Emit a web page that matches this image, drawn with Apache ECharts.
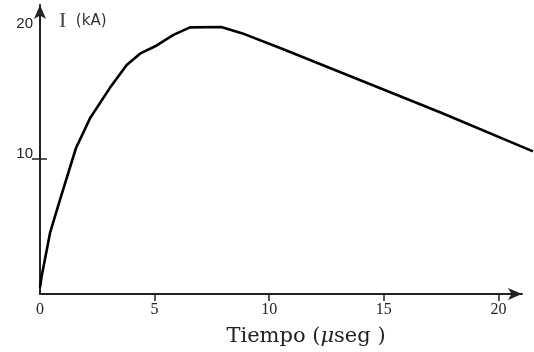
<!DOCTYPE html>
<html>
<head>
<meta charset="utf-8">
<script src="https://cdn.jsdelivr.net/npm/echarts@6/dist/echarts.min.js"></script>
<style>html,body{margin:0;padding:0;background:#fff}#c{width:534px;height:352px}</style>
</head>
<body>
<div id="c"></div>
<script>
// Data
var timeUs = [0, 0.07, 0.44, 0.87, 1.57, 2.18, 3.05, 3.78, 4.36, 5.09, 5.82, 6.54, 7.9, 8.8, 10.5, 17.47, 21.5];
var currentKA = [0.7, 1.5, 4.7, 7.1, 10.9, 13.07, 15.3, 16.97, 17.8, 18.4, 19.17, 19.72, 19.75, 19.3, 18.2, 13.5, 10.65];
var xTickLabels = [0, 5, 10, 15, 20];
var xTickMarks = [5, 10, 15, 20];
var yTickLabels = [10, 20];
var yTickMarks = [10];

var points = timeUs.map(function (t, i) { return [t, currentKA[i]]; });

var chart = echarts.init(document.getElementById('c'), null, {renderer: 'canvas'});
chart.setOption({
  animation: false,
  backgroundColor: '#fff',
  title: {
    left: 54, top: 5,
    text: '{i|I}{u|  (kA)}',
    textStyle: {
      fontWeight: 'normal',
      rich: {
        i: {fontFamily: 'Liberation Serif', fontSize: 22, fontWeight: 'normal', color: '#444'},
        u: {fontFamily: 'DejaVu Sans', fontSize: 15, fontWeight: 'normal', color: '#333'}
      }
    }
  },
  grid: [
    {left: 40, right: 12, top: 5, bottom: 55},
    {left: 40, right: 1, top: 5, bottom: 55}
  ],
  xAxis: [{
    gridIndex: 0, type: 'value', min: 0, max: 21.03,
    axisLine: {show: true, lineStyle: {color: '#222', width: 2}, symbol: ['none', 'arrow'], symbolSize: [9, 14]},
    axisTick: {show: true, inside: false, length: 7, lineStyle: {color: '#222', width: 1.5}, customValues: xTickMarks},
    axisLabel: {customValues: xTickLabels, margin: 8, fontFamily: 'Liberation Serif', fontSize: 16, color: '#222'},
    splitLine: {show: false},
    name: '{a|Tiempo (}{m|μ}{a|seg )}',
    nameLocation: 'middle', nameGap: 32,
    nameTextStyle: {
      padding: [0, 0, 0, 50],
      rich: {
        a: {fontFamily: 'DejaVu Serif', fontSize: 21, color: '#222'},
        m: {fontFamily: 'DejaVu Serif', fontStyle: 'italic', fontSize: 21, color: '#222'}
      }
    }
  }, {
    gridIndex: 1, type: 'value', min: 0, max: 21.5, show: false
  }],
  yAxis: [{
    gridIndex: 0, type: 'value', min: 0, max: 21.36,
    axisLine: {show: true, lineStyle: {color: '#222', width: 2}, symbol: ['none', 'arrow'], symbolSize: [9, 14]},
    axisTick: {show: true, inside: false, length: 8, lineStyle: {color: '#222', width: 1.5}, customValues: yTickMarks},
    axisLabel: {
      customValues: yTickLabels, margin: 7, fontFamily: 'Liberation Sans', fontSize: 15, color: '#222',
      formatter: function (v) { return v === 10 ? '{up|10}' : String(v); },
      rich: {up: {fontFamily: 'Liberation Sans', fontSize: 15, color: '#222', padding: [0, 0, 10, 0]}}
    },
    splitLine: {show: false}
  }, {
    gridIndex: 0, type: 'value', min: 0, max: 21.36, position: 'left', offset: 0,
    axisLine: {show: false},
    axisTick: {show: true, inside: true, length: 7, lineStyle: {color: '#222', width: 1.5}, customValues: yTickMarks},
    axisLabel: {show: false},
    splitLine: {show: false}
  }, {
    gridIndex: 1, type: 'value', min: 0, max: 21.36, show: false
  }],
  series: [{
    type: 'line',
    data: points,
    xAxisIndex: 1,
    yAxisIndex: 2,
    symbol: 'none',
    smooth: false,
    clip: false,
    lineStyle: {color: '#000', width: 2.6}
  }]
});
</script>
</body>
</html>
